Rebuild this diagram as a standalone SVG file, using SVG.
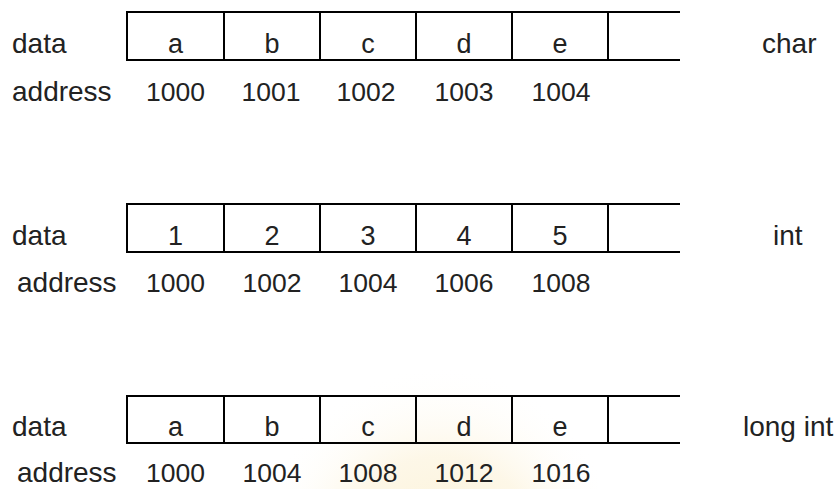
<svg xmlns="http://www.w3.org/2000/svg" width="839" height="489" viewBox="0 0 839 489">
<defs>
<radialGradient id="wm" cx="0.5" cy="0.85" r="0.6">
<stop offset="0" stop-color="#faecc4" stop-opacity="0.9"/>
<stop offset="0.6" stop-color="#fcf2d8" stop-opacity="0.6"/>
<stop offset="1" stop-color="#ffffff" stop-opacity="0"/>
</radialGradient>
<style>
.lbl{font-family:"Liberation Sans",Arial,sans-serif;font-size:28px;fill:#222}
.num{font-family:"Liberation Sans",Arial,sans-serif;font-size:26.5px;fill:#222;text-anchor:middle}
.cell{font-family:"Liberation Sans",Arial,sans-serif;font-size:27px;fill:#222;text-anchor:middle}
.ln{stroke:#000;stroke-width:2;fill:none}
</style>
</defs>
<rect width="839" height="489" fill="#ffffff"/>
<g id="watermark">
<ellipse cx="440" cy="460" rx="160" ry="190" fill="url(#wm)"/>
</g>
<g id="connectors"></g>

<g id="row-char">
<path class="ln" d="M127,12 H680 M127,60 H680 M127,11 V61 M224,12 V60 M320,12 V60 M416,12 V60 M512,12 V60 M608,12 V60"/>
<text class="lbl" x="12" y="53">data</text>
<text class="cell" x="175.5" y="53">a</text>
<text class="cell" x="272" y="53">b</text>
<text class="cell" x="368" y="53">c</text>
<text class="cell" x="464" y="53">d</text>
<text class="cell" x="560" y="53">e</text>
<text class="lbl" x="762" y="53">char</text>
<text class="lbl" x="12" y="101">address</text>
<text class="num" x="175.5" y="101">1000</text>
<text class="num" x="271" y="101">1001</text>
<text class="num" x="366" y="101">1002</text>
<text class="num" x="464" y="101">1003</text>
<text class="num" x="561" y="101">1004</text>
</g>

<g id="row-int">
<path class="ln" d="M127,204 H680 M127,252 H680 M127,203 V253 M224,204 V252 M320,204 V252 M416,204 V252 M512,204 V252 M608,204 V252"/>
<text class="lbl" x="12" y="245">data</text>
<text class="cell" x="175.5" y="245">1</text>
<text class="cell" x="272" y="245">2</text>
<text class="cell" x="368" y="245">3</text>
<text class="cell" x="464" y="245">4</text>
<text class="cell" x="560" y="245">5</text>
<text class="lbl" x="773" y="245">int</text>
<text class="lbl" x="17" y="292">address</text>
<text class="num" x="175.5" y="292">1000</text>
<text class="num" x="272" y="292">1002</text>
<text class="num" x="368" y="292">1004</text>
<text class="num" x="464" y="292">1006</text>
<text class="num" x="561" y="292">1008</text>
</g>

<g id="row-longint">
<path class="ln" d="M127,396 H680 M127,443 H680 M127,395 V444 M224,396 V443 M320,396 V443 M416,396 V443 M512,396 V443 M608,396 V443"/>
<text class="lbl" x="12" y="436">data</text>
<text class="cell" x="175.5" y="436">a</text>
<text class="cell" x="272" y="436">b</text>
<text class="cell" x="368" y="436">c</text>
<text class="cell" x="464" y="436">d</text>
<text class="cell" x="560" y="436">e</text>
<text class="lbl" x="743" y="436">long int</text>
<text class="lbl" x="17" y="482">address</text>
<text class="num" x="175.5" y="482">1000</text>
<text class="num" x="272" y="482">1004</text>
<text class="num" x="368" y="482">1008</text>
<text class="num" x="464" y="482">1012</text>
<text class="num" x="561" y="482">1016</text>
</g>
</svg>
